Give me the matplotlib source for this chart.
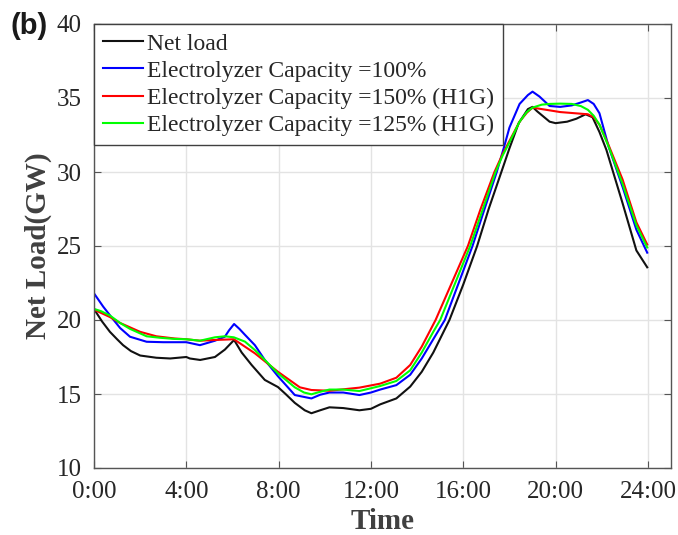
import matplotlib
matplotlib.use("Agg")
import matplotlib.pyplot as plt

# ---- data (hours, GW) ----
t_net = [0, 0.35, 0.69, 1.0, 1.26, 1.6, 2.0, 2.7, 3.3, 4.0, 4.15, 4.6, 5.24, 5.67, 6.07, 6.4, 6.83,
         7.4, 7.97, 8.3, 8.7, 9.13, 9.42, 9.8, 10.2, 10.8, 11.5, 12.0, 12.4, 13.1, 13.7, 14.2, 14.7,
         15.4, 16.0, 16.6, 17.1, 17.65, 18.0, 18.4, 18.8, 19.0, 19.2, 19.74, 20.0, 20.5, 20.9, 21.3,
         21.6, 21.9, 22.2, 22.9, 23.5, 23.97]
v_net = [20.74, 19.9, 19.2, 18.7, 18.3, 17.9, 17.6, 17.45, 17.4, 17.5, 17.4, 17.3, 17.5, 18.0, 18.65,
         17.8, 16.96, 15.95, 15.47, 15.0, 14.4, 13.9, 13.7, 13.9, 14.1, 14.05, 13.9, 14.0, 14.3, 14.7,
         15.5, 16.5, 17.8, 20.0, 22.4, 25.0, 27.5, 30.0, 31.6, 33.3, 34.25, 34.4, 34.1, 33.4, 33.3,
         33.4, 33.6, 33.9, 33.7, 32.7, 31.5, 27.9, 24.7, 23.56]

t_100 = [0, 0.4, 0.8, 1.13, 1.56, 2.28, 3.0, 4.0, 4.59, 5.24, 5.67, 5.85, 6.07, 6.3, 6.54, 6.97, 7.4,
         7.97, 8.7, 9.42, 9.8, 10.2, 10.8, 11.5, 12.0, 12.4, 13.1, 13.7, 14.2, 14.7, 15.2, 15.8, 16.4,
         16.9, 17.45, 17.75, 18.0, 18.44, 18.8, 19.0, 19.3, 19.74, 20.2, 20.7, 21.1, 21.4, 21.65, 21.9,
         22.3, 22.9, 23.5, 23.97]
v_100 = [21.8, 20.9, 20.1, 19.46, 18.87, 18.53, 18.5, 18.5, 18.3, 18.6, 18.87, 19.3, 19.73, 19.4, 19.0,
         18.3, 17.3, 16.2, 14.93, 14.7, 14.95, 15.1, 15.1, 14.93, 15.1, 15.3, 15.6, 16.3, 17.4, 18.7,
         20.0, 22.5, 25.0, 27.4, 30.0, 31.6, 33.0, 34.6, 35.2, 35.43, 35.1, 34.46, 34.4, 34.5, 34.7,
         34.86, 34.6, 33.97, 31.7, 29.0, 26.1, 24.55]

t_150 = [0, 0.69, 1.13, 2.0, 2.7, 3.5, 4.0, 4.59, 5.24, 6.06, 6.97, 7.97, 8.92, 9.42, 10.2, 11.5, 12.4,
         13.1, 13.7, 14.2, 14.8, 15.5, 16.2, 16.75, 17.35, 17.7, 18.0, 18.44, 18.75, 19.0, 20.2, 21.4,
         21.65, 21.9, 22.3, 22.9, 23.5, 23.97]
v_150 = [20.7, 20.2, 19.8, 19.2, 18.9, 18.75, 18.7, 18.6, 18.65, 18.7, 17.75, 16.5, 15.45, 15.27, 15.22,
         15.43, 15.7, 16.1, 16.96, 18.2, 20.0, 22.5, 25.0, 27.5, 30.0, 31.2, 32.1, 33.4, 34.0, 34.35,
         34.05, 33.9, 33.7, 33.2, 31.8, 29.5, 26.6, 25.1]

t_125 = [0, 0.3, 0.69, 1.13, 1.56, 2.28, 2.86, 3.5, 4.0, 4.59, 5.24, 5.67, 6.06, 6.54, 6.97, 7.4, 7.97,
         8.7, 9.1, 9.42, 9.8, 10.2, 10.8, 11.5, 12.4, 13.1, 13.7, 14.2, 14.7, 15.0, 15.65, 16.3, 16.85,
         17.4, 17.7, 18.0, 18.44, 18.75, 19.0, 19.4, 19.74, 20.2, 20.7, 21.1, 21.4, 21.65, 21.9, 22.3,
         22.9, 23.5, 23.97]
v_125 = [20.75, 20.6, 20.3, 19.8, 19.4, 18.9, 18.8, 18.72, 18.7, 18.6, 18.83, 18.9, 18.83, 18.54, 17.97,
         17.3, 16.4, 15.45, 15.1, 14.98, 15.15, 15.3, 15.3, 15.2, 15.54, 15.88, 16.6, 17.8, 19.2, 20.0,
         22.5, 25.0, 27.5, 30.0, 31.1, 32.0, 33.4, 34.05, 34.35, 34.55, 34.6, 34.62, 34.6, 34.45, 34.2,
         33.8, 33.2, 31.7, 29.2, 26.4, 24.9]

labels = ["Net load", "Electrolyzer Capacity =100%",
          "Electrolyzer Capacity =150% (H1G)", "Electrolyzer Capacity =125% (H1G)"]
x_ticks = [0, 4, 8, 12, 16, 20, 24]
x_ticklabels = ["0:00", "4:00", "8:00", "12:00", "16:00", "20:00", "24:00"]
y_ticks = [10, 15, 20, 25, 30, 35, 40]

plt.rcParams['font.family'] = ['Liberation Serif', 'DejaVu Serif']

fig = plt.figure(figsize=(6.78, 5.35), dpi=100)
ax = fig.add_axes([94/678, 1-468/535, (671-94)/678, (468-24)/535])

ax.plot(t_net, v_net, color='#111111', lw=1.5, label=labels[0])
ax.plot(t_100, v_100, color='#0000ff', lw=1.5, label=labels[1])
ax.plot(t_150, v_150, color='#ff0000', lw=1.5, label=labels[2])
ax.plot(t_125, v_125, color='#00ff00', lw=1.5, label=labels[3])

ax.set_xlim(0, 25)
ax.set_ylim(10, 40)
ax.set_xticks(x_ticks)
ax.set_xticklabels(x_ticklabels)
ax.set_yticks(y_ticks)
ax.grid(True, color='#e3e3e3', lw=1.0)
ax.set_axisbelow(True)

tick_col = '#262626'
ax.tick_params(axis='both', direction='in', length=5, width=0.8, colors='#555555',
               labelcolor=tick_col, labelsize=18, top=True, right=True)
ax.tick_params(axis='x', pad=9)
ax.tick_params(axis='y', pad=9)
for s in ax.spines.values():
    s.set_color('#555555')
    s.set_linewidth(1.0)

ax.set_xlabel("Time", fontsize=21, fontweight='bold', color='#404040', labelpad=4)
ax.set_ylabel("Net Load(GW)", fontsize=21, fontweight='bold', color='#404040', labelpad=3)

leg = ax.legend(loc='upper left', bbox_to_anchor=(0, 1), borderaxespad=0, fontsize=17.0,
                handlelength=1.68, handletextpad=0.17, labelspacing=0.24, borderpad=0.38,
                fancybox=False, framealpha=1, edgecolor='#404040')
leg.get_frame().set_linewidth(1.0)
for txt in leg.get_texts():
    txt.set_color(tick_col)

fig.text(10/678, 1-26/535, "(b)", fontsize=21, fontweight='bold', family='Liberation Sans',
         color='#1a1a1a', ha='left', va='center')

fig.savefig("out.png", dpi=100)
